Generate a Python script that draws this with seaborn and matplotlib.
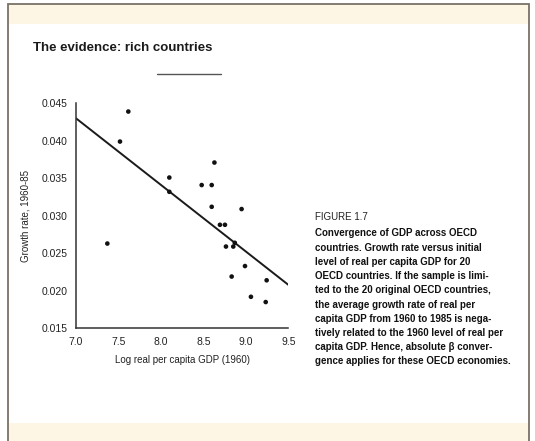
import matplotlib
matplotlib.use("Agg")
import matplotlib.pyplot as plt
from matplotlib.patches import Rectangle
from matplotlib.lines import Line2D
import seaborn as sns
import pandas as pd

# ---- data ----
log_gdp_1960 = [7.616, 7.518, 7.369, 8.099, 8.099, 8.48, 8.598, 8.63, 8.598, 8.95,
                8.695, 8.754, 8.766, 8.852, 8.87, 8.99, 8.833, 9.245, 9.06, 9.234]
growth_rate = [0.0439, 0.0399, 0.0263, 0.0351, 0.0332, 0.0341, 0.0341, 0.0371, 0.0312, 0.0309,
               0.0288, 0.0288, 0.0259, 0.0259, 0.0264, 0.0233, 0.0219, 0.0214, 0.0192, 0.0185]
fit_x = [7.0, 9.5]
fit_y = [0.0430, 0.0208]
x_ticks = [7.0, 7.5, 8.0, 8.5, 9.0, 9.5]
y_ticks = [0.015, 0.020, 0.025, 0.030, 0.035, 0.040, 0.045]

title = "The evidence: rich countries"
x_label = "Log real per capita GDP (1960)"
y_label = "Growth rate, 1960-85"
caption_head = "FIGURE 1.7"
caption_lines = [
    "Convergence of GDP across OECD",
    "countries. Growth rate versus initial",
    "level of real per capita GDP for 20",
    "OECD countries. If the sample is limi-",
    "ted to the 20 original OECD countries,",
    "the average growth rate of real per",
    "capita GDP from 1960 to 1985 is nega-",
    "tively related to the 1960 level of real per",
    "capita GDP. Hence, absolute β conver-",
    "gence applies for these OECD economies.",
]

sns.set_theme(style="white")
plt.rcParams["font.family"] = ["Liberation Sans", "DejaVu Sans"]

W, H = 535, 441
fig = plt.figure(figsize=(W / 100, H / 100), dpi=100)
fig.patch.set_facecolor("white")

# frame: yellowish slide with grey border, white content area
fig.patches.append(Rectangle((8 / W, -0.01), (529 - 8) / W, (H - 4) / H + 0.01, transform=fig.transFigure,
                             facecolor="#FDF6E4", edgecolor="#7A7266", linewidth=1.3, zorder=-3))
fig.patches.append(Rectangle((9 / W, (H - 423) / H), (528 - 9) / W, (423 - 24) / H,
                             transform=fig.transFigure, facecolor="white", edgecolor="none", zorder=-2))

ax = fig.add_axes([76 / W, 1 - 328.3 / H, (288.3 - 76) / W, (328.3 - 103.3) / H])
ax.set_zorder(2)
ax.set_facecolor("none")

df = pd.DataFrame({"x": log_gdp_1960, "y": growth_rate})
sns.scatterplot(data=df, x="x", y="y", ax=ax, color="#111111", marker="o", s=11,
                edgecolor="none", zorder=3, clip_on=False)
fit = pd.DataFrame({"x": fit_x, "y": fit_y})
sns.lineplot(data=fit, x="x", y="y", ax=ax, color="#1a1a1a", linewidth=1.4, zorder=2)

ax.set_xlim(7.0, 9.5)
ax.set_ylim(0.015, 0.045)
ax.set_xticks(x_ticks)
ax.set_xticklabels([f"{v:.1f}" for v in x_ticks])
ax.set_yticks(y_ticks)
ax.set_yticklabels([f"{v:.3f}" for v in y_ticks])
for s in ["top", "right"]:
    ax.spines[s].set_visible(False)
for s in ["left", "bottom"]:
    ax.spines[s].set_color("#333333")
    ax.spines[s].set_linewidth(1.1)
ax.tick_params(axis="both", direction="out", length=3, width=1, colors="#333333",
               labelsize=7.5, labelcolor="#222222", pad=3)
ax.set_xlabel(x_label, fontsize=7, color="#222222", labelpad=6)
ax.set_ylabel(y_label, fontsize=7, color="#222222", labelpad=8)

fig.text(33 / W, 1 - 48 / H, title, fontsize=9.5, color="#1a1a1a", va="center", ha="left",
         fontweight="bold")
fig.add_artist(Line2D([157 / W, 221 / W], [1 - 74 / H, 1 - 74 / H], transform=fig.transFigure,
                      color="#555555", linewidth=1.0))

fig.text(315 / W, 1 - 217 / H, caption_head, fontsize=7, color="#222222", va="center", ha="left")
for i, line in enumerate(caption_lines):
    fig.text(315 / W, 1 - (233.5 + i * 14.2) / H, line, fontsize=7, fontweight="bold",
             color="#111111", va="center", ha="left")

fig.savefig("out.png", dpi=100)
